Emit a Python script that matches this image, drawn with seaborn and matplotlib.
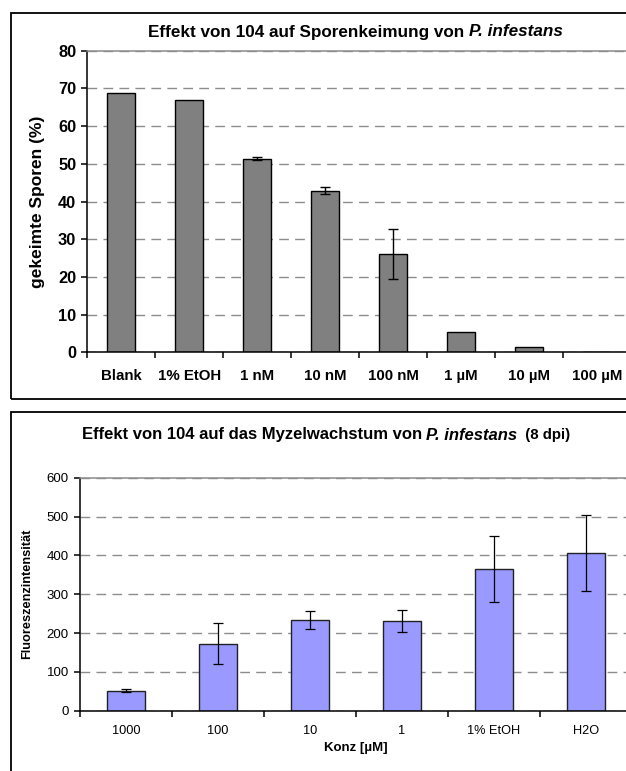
import numpy as np
import pandas as pd
import matplotlib
matplotlib.use("Agg")
import matplotlib.pyplot as plt
from matplotlib.patches import Rectangle
import seaborn as sns

# --- spore germination (%), mean and error per treatment ---
spore_labels = ["Blank", "1% EtOH", "1 nM", "10 nM", "100 nM", "1 µM", "10 µM", "100 µM"]
spore_values = [68.7, 66.9, 51.4, 42.9, 26.1, 5.5, 1.5, 0.0]
spore_errors = [0.0, 0.0, 0.3, 1.0, 6.7, 0.0, 0.0, 0.0]
spore_yticks = [0, 10, 20, 30, 40, 50, 60, 70, 80]

# --- mycelial growth (fluorescence intensity, 8 dpi) ---
myc_labels = ["1000", "100", "10", "1", "1% EtOH", "H2O"]
myc_values = [52, 173, 234, 231, 365, 406]
myc_errors = [5, 52, 23, 28, 86, 99]
myc_yticks = [0, 100, 200, 300, 400, 500, 600]

sns.set_theme(style="white")
plt.rcParams["font.family"] = ["Liberation Sans", "DejaVu Sans"]
for key in ["text.color", "axes.labelcolor", "xtick.color", "ytick.color"]:
    plt.rcParams[key] = "black"

W, H = 626, 771
fig = plt.figure(figsize=(W / 100, H / 100), dpi=100)
fig.patch.set_facecolor("white")


def px_rect(x0, y0, x1, y1):
    """Axes rectangle from pixel edges (top-left origin)."""
    return [x0 / W, 1 - y1 / H, (x1 - x0) / W, (y1 - y0) / H]


# outer chart frames
for (x0, y0, x1, y1) in [(11, 12.7, 660, 399), (11, 411.7, 660, 800)]:
    fig.patches.append(Rectangle((x0 / W, 1 - y1 / H), (x1 - x0) / W, (y1 - y0) / H,
                                 transform=fig.transFigure, fill=False,
                                 edgecolor="black", linewidth=1.3, zorder=0))


def style_axes(ax, n, yticks, bold, xsize, ysize):
    ax.set_xlim(-0.5, n - 0.5)
    ax.set_ylim(yticks[0], yticks[-1])
    ax.set_yticks(yticks)
    ax.set_axisbelow(True)
    ax.yaxis.grid(True, linestyle=(0, (7, 4.5)), color="#8c8c8c", linewidth=1)
    ax.xaxis.grid(False)
    for side in ["left", "bottom"]:
        ax.spines[side].set_color("black")
        ax.spines[side].set_linewidth(1.1)
    for side in ["top", "right"]:
        ax.spines[side].set_color("#8c8c8c")
        ax.spines[side].set_linewidth(1.1)
    ax.set_xticks(np.arange(n + 1) - 0.5, minor=True)
    ax.tick_params(axis="x", which="major", length=0, pad=12, labelsize=xsize)
    ax.tick_params(axis="x", which="minor", length=4, width=1.1,
                   direction="out", color="black", bottom=True)
    ax.tick_params(axis="y", length=4, width=1.1, direction="out",
                   color="black", left=True, pad=4, labelsize=ysize)
    weight = "bold" if bold else "normal"
    for lab in ax.get_xticklabels() + ax.get_yticklabels():
        lab.set_fontweight(weight)


# ---------- top chart: spore germination ----------
ax1 = fig.add_axes(px_rect(87.3, 50.7, 631, 352.3))
df1 = pd.DataFrame({"Behandlung": spore_labels, "Wert": spore_values})
sns.barplot(data=df1, x="Behandlung", y="Wert", color="#808080", saturation=1,
            edgecolor="black", linewidth=1, width=0.41, errorbar=None, ax=ax1)
x1 = np.arange(len(spore_labels))
err1 = np.array(spore_errors)
m1 = err1 > 0
ax1.errorbar(x1[m1], np.array(spore_values)[m1], yerr=err1[m1], fmt="none",
             ecolor="black", elinewidth=1, capsize=3.5, capthick=1)
style_axes(ax1, len(spore_labels), spore_yticks, True, 10.8, 11.8)
ax1.set_xlabel("")
ax1.set_ylabel("gekeimte Sporen (%)", fontsize=12.5, fontweight="bold", labelpad=9)

# ---------- bottom chart: mycelial growth ----------
ax2 = fig.add_axes(px_rect(80, 477.7, 632, 710.7))
df2 = pd.DataFrame({"Konz": myc_labels, "Wert": myc_values})
sns.barplot(data=df2, x="Konz", y="Wert", color="#9999FF", saturation=1,
            edgecolor="#222222", linewidth=1, width=0.41, errorbar=None, ax=ax2)
x2 = np.arange(len(myc_labels))
ax2.errorbar(x2, myc_values, yerr=myc_errors, fmt="none",
             ecolor="black", elinewidth=0.9, capsize=3.5, capthick=0.9)
style_axes(ax2, len(myc_labels), myc_yticks, False, 9.2, 9.5)
ax2.tick_params(axis="x", which="major", pad=10)
ax2.set_xlabel("Konz [µM]", fontsize=9.5, fontweight="bold", labelpad=4)
ax2.set_ylabel("Fluoreszenzintensität", fontsize=9.2, fontweight="bold", labelpad=10)


# ---------- titles with italic species name ----------
def rich_text(y_px, center_px, parts):
    renderer = fig.canvas.get_renderer()
    texts = [fig.text(0, 1 - y_px / H, s, va="center", ha="left", **kw) for s, kw in parts]
    widths = [t.get_window_extent(renderer).width for t in texts]
    x = center_px - sum(widths) / 2
    for t, w in zip(texts, widths):
        t.set_x(x / W)
        x += w


bold = dict(fontsize=12.3, fontweight="bold")
bold_it = dict(fontsize=12.3, fontweight="bold", style="italic")
rich_text(32, 355, [("Effekt von 104 auf Sporenkeimung von ", bold),
                    ("P. infestans", bold_it)])
bold2 = dict(fontsize=12, fontweight="bold")
bold2_it = dict(fontsize=12, fontweight="bold", style="italic")
rich_text(435, 326, [("Effekt von 104 auf das Myzelwachstum von ", bold2),
                     ("P. infestans", bold2_it),
                     ("  (8 dpi)", dict(fontsize=10.8, fontweight="bold"))])

fig.savefig("out.png", dpi=100)
